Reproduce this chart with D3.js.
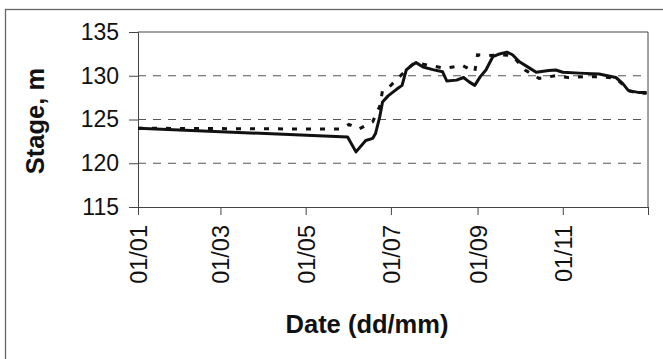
<!DOCTYPE html>
<html>
<head>
<meta charset="utf-8">
<script src="https://cdn.jsdelivr.net/npm/d3@7"></script>
<style>
  body { margin: 0; background: #fff; }
  svg { display: block; font-family: "Liberation Sans", Arial, sans-serif; }
</style>
</head>
<body>
<script>
// chart size
const width = 663;
const height = 359;
const margin = { top: 32, right: 15, bottom: 152, left: 138 };

// data, dates as dd/mm
const yTicks = [115, 120, 125, 130, 135];
const gridValues = [120, 125, 130];
const tickDates = ["01/01", "01/03", "01/05", "01/07", "01/09", "01/11"];

const solidDates = ["01/01", "31/05", "06/06", "13/06", "18/06", "20/06", "23/06", "25/06", "29/06",
  "05/07", "09/07", "12/07", "16/07", "19/07", "24/07", "31/07", "07/08", "10/08", "17/08", "22/08",
  "26/08", "30/08", "03/09", "07/09", "12/09", "16/09", "22/09", "26/09", "01/10", "08/10", "13/10",
  "22/10", "27/10", "01/11", "13/11", "27/11", "09/12", "14/12", "18/12", "25/12", "31/12"];
const solidValues = [124.0, 123.0, 121.3, 122.6, 122.85, 123.4, 125.3, 127.0, 127.7,
  128.45, 128.9, 130.66, 131.2, 131.5, 131.0, 130.7, 130.45, 129.4, 129.5, 129.8,
  129.3, 128.9, 129.9, 130.66, 132.2, 132.45, 132.7, 132.4, 131.6, 130.9, 130.4,
  130.6, 130.66, 130.4, 130.3, 130.2, 129.8, 129.1, 128.3, 128.1, 128.1];

const dottedDates = ["01/01", "25/05", "01/06", "08/06", "18/06", "23/06", "25/06", "30/06",
  "12/07", "18/07", "30/07", "09/08", "21/08", "30/08", "01/09", "09/09", "18/09", "26/09",
  "05/10", "15/10", "27/10", "05/11", "17/11", "28/11", "09/12", "14/12", "18/12", "25/12", "31/12"];
const dottedValues = [124.0, 123.9, 124.45, 123.9, 124.75, 126.5, 128.3, 128.75,
  130.66, 131.5, 131.15, 130.85, 131.2, 130.45, 132.4, 132.3, 132.4, 132.3,
  130.66, 129.7, 130.0, 129.8, 129.9, 129.9, 129.7, 129.0, 128.3, 128.0, 128.0];

const parseDate = d3.timeParse("%d/%m/%Y");
const toDate = s => parseDate(s + "/2001");

const svg = d3.select("body").append("svg")
    .attr("width", width)
    .attr("height", height);

// outer frame (only top and left show in the scan)
svg.append("rect")
    .attr("x", 5.5).attr("y", 9.5)
    .attr("width", 700).attr("height", 400)
    .attr("fill", "none")
    .attr("stroke", "#666")
    .attr("stroke-width", 1.3);

const x = d3.scaleTime()
    .domain([toDate("01/01"), parseDate("01/01/2002")])
    .range([margin.left, width - margin.right]);

const y = d3.scaleLinear()
    .domain([115, 135])
    .range([height - margin.bottom, margin.top]);

// gridlines
svg.selectAll(".grid")
    .data(gridValues)
    .enter().append("line")
    .attr("class", "grid")
    .attr("x1", margin.left).attr("x2", width - margin.right)
    .attr("y1", d => y(d)).attr("y2", d => y(d))
    .attr("stroke", "#555")
    .attr("stroke-width", 1)
    .attr("stroke-dasharray", "8,7");

// plot border top/right
svg.append("path")
    .attr("d", `M${margin.left},${y(135)}H${width - margin.right}V${y(115)}`)
    .attr("fill", "none")
    .attr("stroke", "#444")
    .attr("stroke-width", 1);

// y axis
const yAxis = svg.append("g")
    .attr("transform", `translate(${margin.left},0)`)
    .call(d3.axisLeft(y).tickValues(yTicks).tickSize(9).tickPadding(10));
yAxis.selectAll("text")
    .style("font-size", "23px")
    .attr("fill", "#111");

// x axis
const xTickValues = tickDates.map(toDate).concat([parseDate("01/01/2002")]);
const xAxis = svg.append("g")
    .attr("transform", `translate(0,${y(115)})`)
    .call(d3.axisBottom(x).tickValues(xTickValues).tickSize(8)
        .tickFormat((d, i) => i < tickDates.length ? tickDates[i] : ""));
xAxis.selectAll("text")
    .style("font-size", "23.5px")
    .attr("fill", "#111")
    .attr("text-anchor", "end")
    .attr("dy", "0.36em")
    .attr("transform", "rotate(-90)")
    .attr("x", -18)
    .attr("y", 0);

svg.selectAll(".domain, .tick line")
    .attr("stroke", "#444")
    .attr("stroke-width", 1);

const line = d3.line()
    .x(d => x(d.date))
    .y(d => y(d.value));

const solid = solidDates.map((d, i) => ({ date: toDate(d), value: solidValues[i] }));
const dotted = dottedDates.map((d, i) => ({ date: toDate(d), value: dottedValues[i] }));

svg.append("path")
    .datum(dotted)
    .attr("d", line)
    .attr("fill", "none")
    .attr("stroke", "#111")
    .attr("stroke-width", 3)
    .attr("stroke-dasharray", "5,9");

svg.append("path")
    .datum(solid)
    .attr("d", line)
    .attr("fill", "none")
    .attr("stroke", "#111")
    .attr("stroke-width", 3)
    .attr("stroke-linejoin", "round");

// axis titles
svg.append("text")
    .attr("transform", "translate(44,121) rotate(-90)")
    .attr("text-anchor", "middle")
    .style("font-size", "25.5px")
    .style("font-weight", "bold")
    .attr("fill", "#111")
    .text("Stage, m");

svg.append("text")
    .attr("x", 367)
    .attr("y", 333)
    .attr("text-anchor", "middle")
    .style("font-size", "25.5px")
    .style("font-weight", "bold")
    .attr("fill", "#111")
    .text("Date (dd/mm)");
</script>
</body>
</html>
